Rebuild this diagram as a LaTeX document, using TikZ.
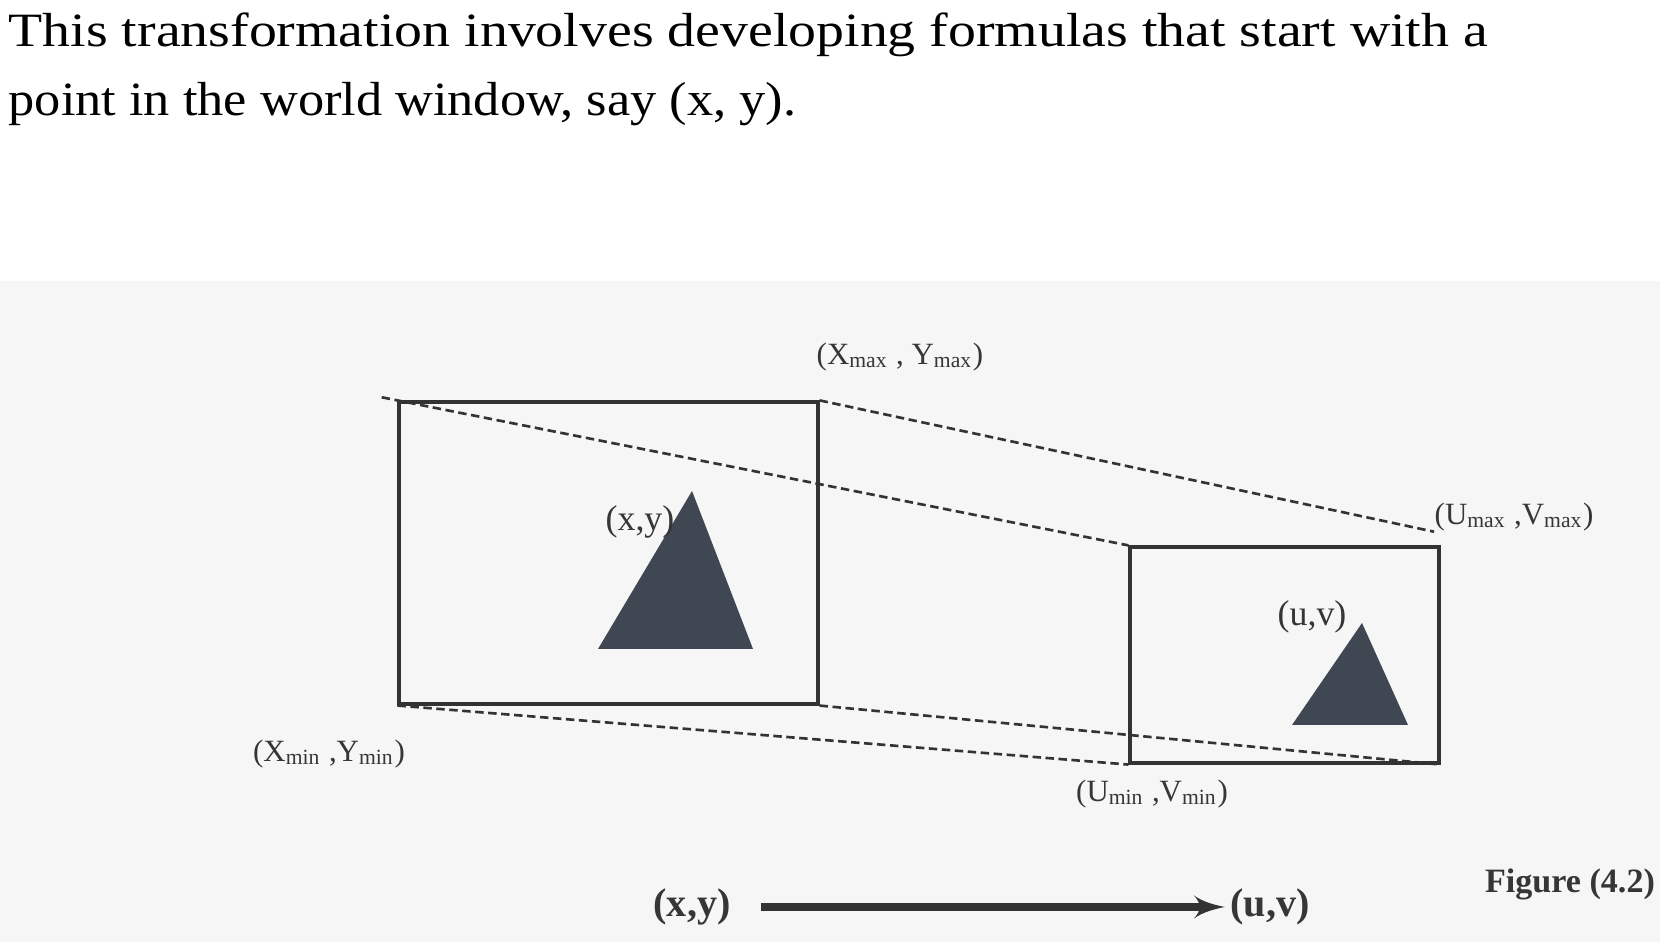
\documentclass[tikz,border=0pt]{standalone}
\usepackage{fontspec}
\setmainfont{Liberation Serif}
\newfontfamily\headfont[FakeStretch=1.168]{Liberation Serif}
\newfontfamily\headfontb[FakeStretch=1.095]{Liberation Serif}
\usepackage{tikz}
\usetikzlibrary{shapes,arrows}
\definecolor{ink}{HTML}{333333}
\definecolor{labelgray}{HTML}{363636}
\definecolor{trifill}{HTML}{3F4852}
\definecolor{paper}{HTML}{F6F6F6}
\tikzstyle{window} = [rectangle, draw=ink, line width=0.9pt, inner sep=0pt]
\tikzstyle{corner} = [text=labelgray, inner sep=0pt, font=\fontsize{8.8}{10}\selectfont]
\tikzstyle{pointlbl} = [text=labelgray, inner sep=0pt, font=\fontsize{10.2}{12}\selectfont]
\tikzstyle{biglbl} = [text=labelgray, inner sep=0pt, font=\bfseries\fontsize{11.4}{13}\selectfont]
\tikzstyle{headline} = [anchor=base west, inner sep=0pt]
\tikzstyle{dashline} = [draw=ink, line width=0.75pt, dash pattern=on 2.4pt off 1.3pt]
\tikzstyle{line} = [draw=ink, line width=2pt, -latex']

\begin{document}
\begin{tikzpicture}[node distance = 2cm]
  \useasboundingbox (0,0) rectangle (16.60,9.42);
  \fill[paper] (0,0) rectangle (16.60,6.61);

  % heading
  \node [headline, font=\headfont\fontsize{13.6}{16}\selectfont] (line1) at (0.08,8.95) {This transformation involves developing formulas that start with a};
  \node [headline, font=\headfontb\fontsize{13.6}{16}\selectfont] (line2) at (0.08,8.26) {point in the world window, say (x, y).};

  % nodes
  \node [window, minimum width=4.19cm, minimum height=3.02cm] (world) at (6.085,3.89) {};
  \node [window, minimum width=3.09cm, minimum height=2.16cm, right of=world, node distance=6.76cm, yshift=-1.02cm] (viewport) {};
  \fill [trifill] (6.92,4.51) -- (5.98,2.93) -- (7.53,2.93) -- cycle;
  \fill [trifill] (13.62,3.19) -- (12.92,2.17) -- (14.08,2.17) -- cycle;
  \node [pointlbl] (xy_in) at (6.40,4.20) {(x,y)};
  \node [pointlbl] (uv_in) at (13.12,3.25) {(u,v)};
  \node [corner] (xmax) at (9.00,5.85) {(X\textsubscript{max} , Y\textsubscript{max})};
  \node [corner, anchor=west] (umax) at (14.34,4.25) {(U\textsubscript{max} ,V\textsubscript{max})};
  \node [corner] (xmin) at (3.29,1.88) {(X\textsubscript{min} ,Y\textsubscript{min})};
  \node [corner] (umin) at (11.52,1.48) {(U\textsubscript{min} ,V\textsubscript{min})};
  \node [biglbl] (from_pt) at (6.92,0.35) {(x,y)};
  \node [biglbl, right of=from_pt, node distance=5.78cm] (to_pt) {(u,v)};
  \node [biglbl, font=\bfseries\fontsize{9.7}{11}\selectfont] (fig) at (15.70,0.58) {Figure (4.2)};

  % edges
  \path [dashline, shorten <=-0.16cm] (world.north west) -- (viewport.north west);
  \path [dashline] (world.north east) -- (umax.south west);
  \path [dashline] (world.south east) -- (viewport.south east);
  \path [dashline] (world.south west) -- (viewport.south west);
  \path [line, shorten <=0.3cm, shorten >=0.05cm] (from_pt) -- (to_pt);
\end{tikzpicture}
\end{document}
